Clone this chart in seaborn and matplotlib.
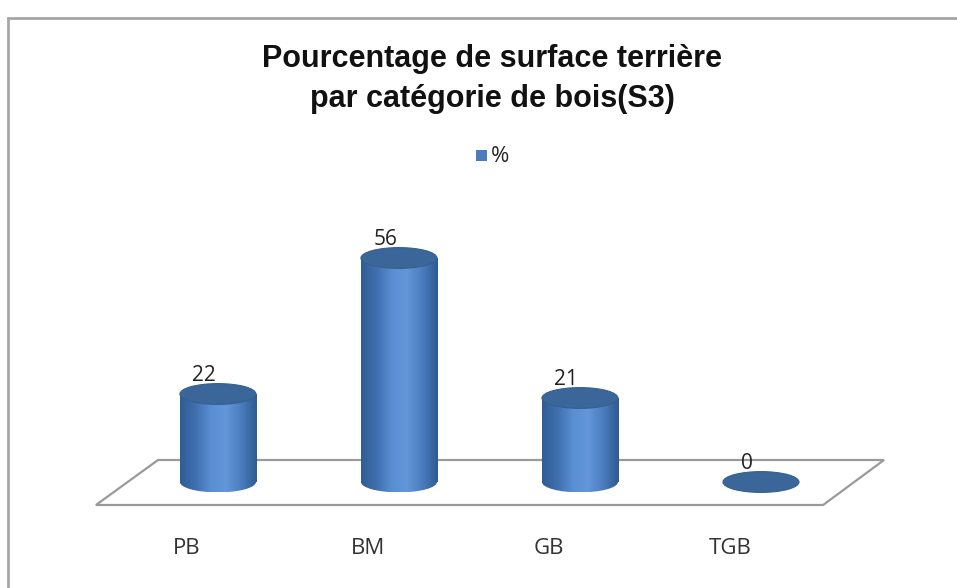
import numpy as np
import pandas as pd
import matplotlib
matplotlib.use("Agg")
import matplotlib.pyplot as plt
import seaborn as sns
from matplotlib.patches import Ellipse, Polygon, Rectangle
from matplotlib.colors import LinearSegmentedColormap

# donnees du graphique
categories = ["PB", "BM", "GB", "TGB"]
valeurs = [22, 56, 21, 0]
titre = "Pourcentage de surface terrière\npar catégorie de bois(S3)"
serie = "%"

tabela = pd.DataFrame({"cat": categories, "val": valeurs})

sns.set_style("white")
plt.rcParams["font.family"] = ["Liberation Sans", "DejaVu Sans"]

fig = plt.figure(figsize=(9.57, 5.88), dpi=100)
ax = fig.add_axes([0, 0, 1, 1])

largeur = 0.42
sns.barplot(data=tabela, x="cat", y="val", ax=ax, width=largeur,
            color="#4a7bbd", saturation=1, zorder=3)

# axes qui couvrent toute la figure
ax.set_xlim(-1.204, 4.083)
ax.set_ylim(-26.5, 120.5)
ax.axis("off")

# cadre gris du graphique
fig.patches.append(Rectangle((8 / 957, -0.2), 1.2, 1.2 - 18 / 588,
                             transform=fig.transFigure, fill=False,
                             edgecolor="#a6a6a6", linewidth=2))

# plancher 3D
sol = Polygon([(-0.674, -5.75), (3.343, -5.75), (3.680, 5.5), (-0.331, 5.5)],
              closed=True, facecolor="white", edgecolor="#9a9a9a",
              linewidth=1.6, zorder=1)
ax.add_patch(sol)

# degrade pour les cylindres
cmap = LinearSegmentedColormap.from_list(
    "cyl", ["#2f5d94", "#3f6fae", "#5a8ed3", "#6397da", "#4a7cbf", "#2e5b8f"])
grad = np.linspace(0, 1, 200).reshape(1, -1)
h_ell = 5.2

for i, patch in enumerate(ax.patches):
    if not isinstance(patch, Rectangle) or patch is sol:
        continue
    x0 = patch.get_x()
    w = patch.get_width()
    v = patch.get_height()
    xc = x0 + w / 2
    patch.set_facecolor("none")
    patch.set_edgecolor("none")
    if v > 0:
        # corps du cylindre + fond arrondi
        im = ax.imshow(grad, cmap=cmap, aspect="auto", zorder=3,
                       extent=(x0, x0 + w, -h_ell / 2, v), interpolation="bicubic")
        corps = Rectangle((x0, 0), w, v, transform=ax.transData)
        im.set_clip_path(corps)
        im2 = ax.imshow(grad, cmap=cmap, aspect="auto", zorder=3,
                        extent=(x0, x0 + w, -h_ell / 2, v), interpolation="bicubic")
        fond = Ellipse((xc, 0), w, h_ell, transform=ax.transData)
        im2.set_clip_path(fond)
    # dessus du cylindre
    ax.add_patch(Ellipse((xc, v), w, h_ell, facecolor="#3b6699",
                         edgecolor="#35608f", linewidth=0.8, zorder=4))

# etiquettes de valeurs
for i, v in enumerate(valeurs):
    ax.text(i - 0.075, v + 4.6, str(v), ha="center", va="center",
            fontsize=15, color="#222222", family=["Open Sans", "DejaVu Sans"])

# etiquettes des categories (decalees par la perspective)
for i, c in enumerate(categories):
    ax.text(i - 0.17, -16.5, c, ha="center", va="center", fontsize=16,
            color="#333333", family=["Open Sans", "DejaVu Sans"])

# titre
fig.text(492 / 957, 1 - 79 / 588, titre, ha="center", va="center",
         fontsize=22, fontweight="bold", linespacing=1.45, color="#111111")

# legende
fig.patches.append(Rectangle((476 / 957, 1 - 161 / 588), 11 / 957, 11 / 588,
                             transform=fig.transFigure, facecolor="#4a7bbd",
                             edgecolor="none"))
fig.text(491 / 957, 1 - 156 / 588, serie, ha="left", va="center", fontsize=16,
         family=["Open Sans", "DejaVu Sans"])

fig.savefig("out.png", dpi=100)
